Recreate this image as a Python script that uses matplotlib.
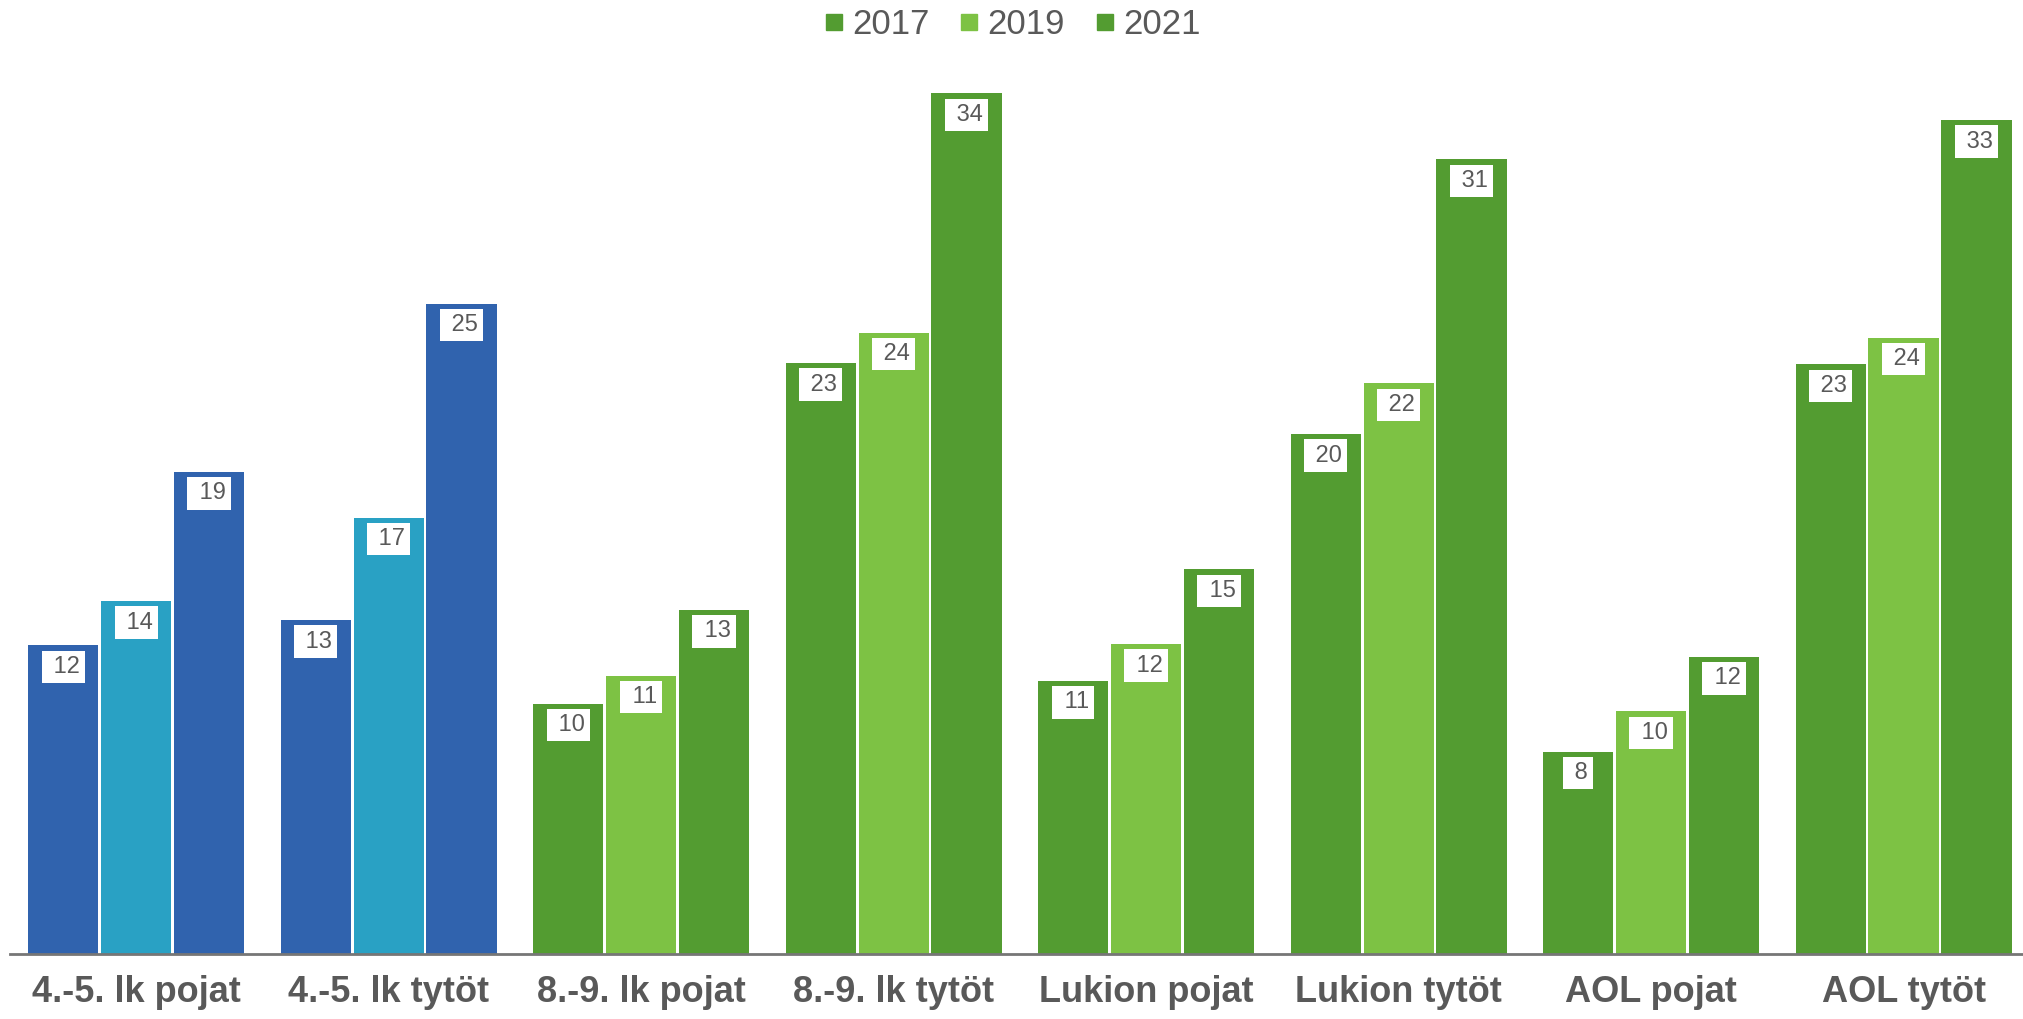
#!/usr/bin/env python3
import numpy as np
import matplotlib
matplotlib.use("Agg")
import matplotlib.pyplot as plt
from matplotlib.lines import Line2D

categories = ["4.-5. lk pojat", "4.-5. lk tytöt", "8.-9. lk pojat", "8.-9. lk tytöt",
              "Lukion pojat", "Lukion tytöt", "AOL pojat", "AOL tytöt"]
years = ["2017", "2019", "2021"]
# bar heights (the printed labels are rounded)
v2017 = [12.2, 13.2, 9.9, 23.35, 10.8, 20.55, 8.0, 23.3]
v2019 = [13.95, 17.25, 11.0, 24.55, 12.25, 22.55, 9.6, 24.35]
v2021 = [19.05, 25.7, 13.6, 34.0, 15.2, 31.4, 11.75, 32.95]
lab2017 = [12, 13, 10, 23, 11, 20, 8, 23]
lab2019 = [14, 17, 11, 24, 12, 22, 10, 24]
lab2021 = [19, 25, 13, 34, 15, 31, 12, 33]

# first two groups are drawn in blue tones, the rest in greens
blue_dark, blue_light = "#3063ae", "#29a1c4"
green_dark, green_light = "#539c31", "#7dc244"
n_blue = 2

TEXT = "#595959"
plt.rcParams["font.family"] = ["Liberation Sans", "DejaVu Sans"]

fig = plt.figure(figsize=(20.23, 10.19), dpi=100)
ax = fig.add_axes([0.0049, 0.0635, 0.9951, 0.8945])

x = np.arange(len(categories))
pitch = 0.2887
width = 0.278
series = [(v2017, lab2017), (v2019, lab2019), (v2021, lab2021)]
for j, (vals, labs) in enumerate(series):
    light = j == 1
    cols = []
    for i in range(len(categories)):
        if i < n_blue:
            cols.append(blue_light if light else blue_dark)
        else:
            cols.append(green_light if light else green_dark)
    xs = x + (j - 1) * pitch
    ax.bar(xs, vals, width=width, color=cols, zorder=2)
    for xi, v, lab in zip(xs, vals, labs):
        ax.text(xi, v - 0.85, " " + str(lab), ha="center", va="center",
                fontsize=17, color=TEXT, zorder=3,
                bbox=dict(boxstyle="square,pad=0.22", fc="white", ec="none"))

ax.set_xlim(-0.5, 7.473)
ax.set_ylim(0, 36)
ax.set_xticks(x)
ax.set_xticklabels(categories, fontsize=26, fontweight="bold", color=TEXT)
ax.tick_params(axis="x", length=0, pad=15)
ax.set_yticks([])
for s in ("top", "right", "left"):
    ax.spines[s].set_visible(False)
ax.spines["bottom"].set_color("#767676")
ax.spines["bottom"].set_linewidth(2)
ax.spines["bottom"].set_zorder(4)

handles = [Line2D([], [], ls="none", marker="s", markersize=12.2,
                  markerfacecolor=c, markeredgecolor=c)
           for c in (green_dark, green_light, green_dark)]
leg = fig.legend(handles, years, loc="center", bbox_to_anchor=(0.5007, 0.976),
                 ncol=3, frameon=False, fontsize=25, handlelength=0.5,
                 handletextpad=0.27, columnspacing=0.9, borderpad=0)
for t in leg.get_texts():
    t.set_color(TEXT)

fig.savefig("out.png", dpi=100)
